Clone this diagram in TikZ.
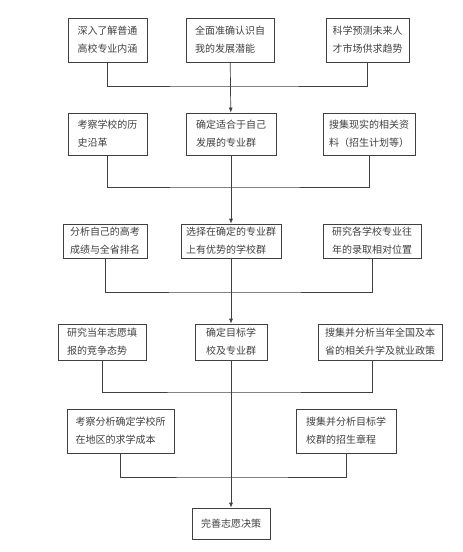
\documentclass[tikz,border=0pt]{standalone}
\usepackage{fontspec}
\newfontfamily\cjk{Noto Sans CJK SC}
\usepackage{tikz}
\usetikzlibrary{positioning, arrows.meta, calc}

\begin{document}
\begin{tikzpicture}[
    x=1pt, y=-1pt,
    box/.style={draw=black!75, line width=0.7pt, font=\cjk\fontsize{10}{18}\selectfont,
        text=black!75, align=left, inner xsep=5pt, inner ysep=2pt},
    link/.style={draw=black!75, line width=0.7pt},
    arr/.style={link, -{Latex[length=5pt, width=4pt]}},
]
\useasboundingbox (0,0) rectangle (463,552);

% Row 1
\node[box, minimum width=79pt, minimum height=44pt] (r1a) at (107.5,40) {深入了解普通\\高校专业内涵};
\node[box, minimum width=88pt, minimum height=44pt] (r1b) at (230,40) {全面准确认识自\\我的发展潜能};
\node[box, minimum width=83pt, minimum height=44pt] (r1c) at (367.5,40) {科学预测未来人\\才市场供求趋势};

% Row 2
\node[box, minimum width=79pt, minimum height=42pt] (r2a) at (107.5,134) {考察学校的历\\史沿革};
\node[box, minimum width=90pt, minimum height=42pt] (r2b) at (231,134) {确定适合于自己\\发展的专业群};
\node[box, minimum width=92pt, minimum height=42pt] (r2c) at (369,134) {搜集现实的相关资\\料（招生计划等）};

% Row 3
\node[box, minimum width=84pt, minimum height=34pt] (r3a) at (105,241) {分析自己的高考\\成绩与全省排名};
\node[box, minimum width=99pt, minimum height=34pt] (r3b) at (231,241) {选择在确定的专业群\\上有优势的学校群};
\node[box, minimum width=98pt, minimum height=34pt] (r3c) at (372,241) {研究各学校专业往\\年的录取相对位置};

% Row 4
\node[box, minimum width=88pt, minimum height=36pt] (r4a) at (102,342) {研究当年志愿填\\报的竞争态势};
\node[box, minimum width=72pt, minimum height=36pt] (r4b) at (231,342) {确定目标学\\校及专业群};
\node[box, minimum width=124pt, minimum height=36pt] (r4c) at (380,342) {搜集并分析当年全国及本\\省的相关升学及就业政策};

% Row 5
\node[box, minimum width=107pt, minimum height=44pt] (r5a) at (120.5,431) {考察分析确定学校所\\在地区的求学成本};
\node[box, minimum width=100pt, minimum height=44pt] (r5c) at (346,431) {搜集并分析目标学\\校群的招生章程};

% Final decision
\node[box, align=center, minimum width=78pt, minimum height=31pt] (fin) at (231,523.5) {完善志愿决策};

% Collecting lines
\coordinate (bus1) at (231,86);
\coordinate (bus2) at (231,187);
\coordinate (bus3) at (231,292);
\coordinate (bus4) at (231,392);
\coordinate (bus5) at (231,477);
\draw[link] (r1a.south) |- (bus1) -| (r1c.south);
\draw[link] (r2a.south) |- (bus2) -| (r2c.south);
\draw[link] (r3a.south) |- (bus3) -| (r3c.south);
\draw[link] (r4a.south) |- (bus4) -| ([xshift=-8pt]r4c.south);
\draw[link] (r5a.south) |- (bus5) -| (r5c.south);

% Main flow
\draw[arr] (r1b) -- (r2b);
\draw[arr] (r2b) -- (r3b);
\draw[arr] (r3b) -- (r4b);
\draw[arr] (r4b) -- (fin);
\end{tikzpicture}
\end{document}
